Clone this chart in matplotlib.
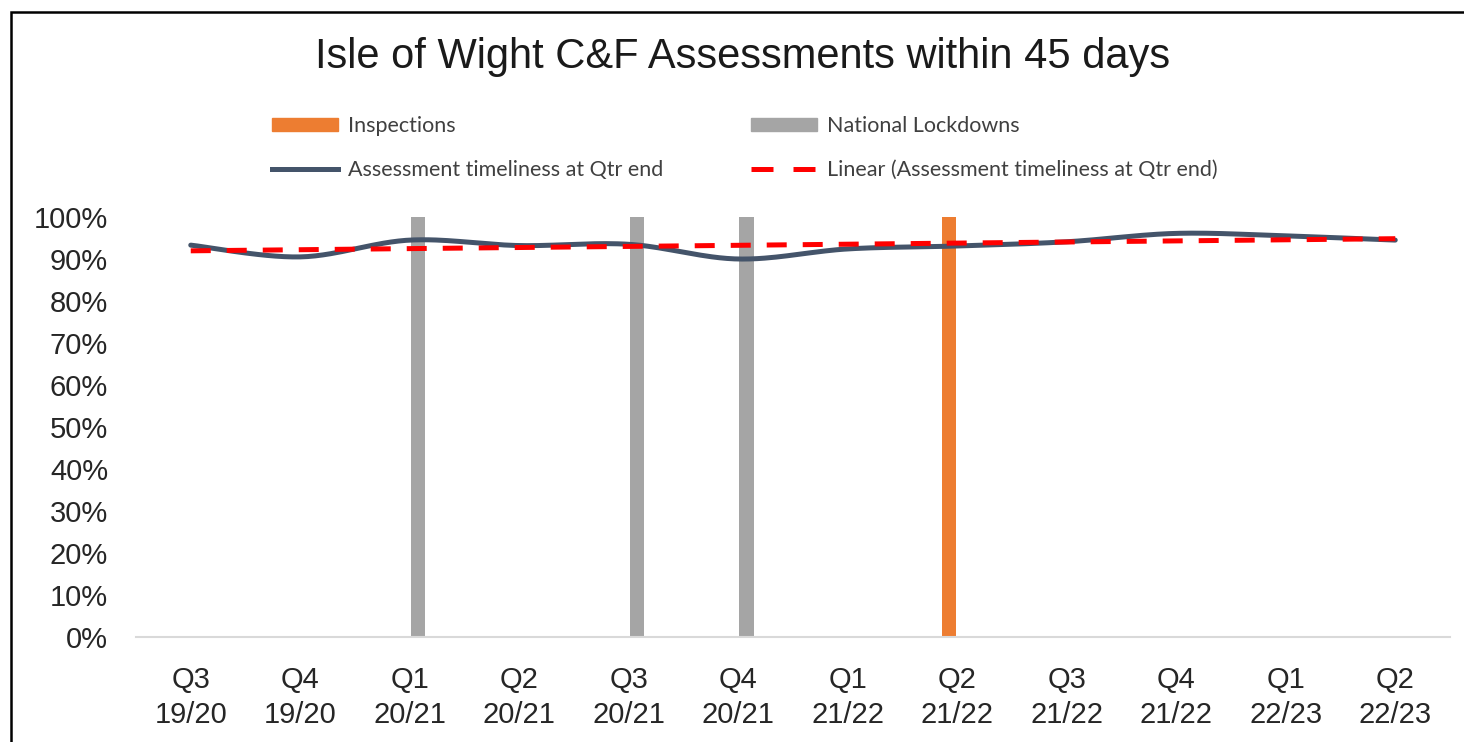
import numpy as np
import matplotlib
matplotlib.use('Agg')
import matplotlib.pyplot as plt
from matplotlib.patches import Patch, Rectangle
from matplotlib.lines import Line2D

quarters = ['Q3\n19/20', 'Q4\n19/20', 'Q1\n20/21', 'Q2\n20/21', 'Q3\n20/21', 'Q4\n20/21',
            'Q1\n21/22', 'Q2\n21/22', 'Q3\n21/22', 'Q4\n21/22', 'Q1\n22/23', 'Q2\n22/23']
timeliness = [0.933, 0.905, 0.945, 0.932, 0.935, 0.900, 0.924, 0.931, 0.941, 0.961, 0.955, 0.945]
inspections = [0, 0, 0, 0, 0, 0, 0, 1, 0, 0, 0, 0]
lockdowns = [0, 0, 1, 0, 1, 1, 0, 0, 0, 0, 0, 0]

orange = '#ED7D31'
grey = '#A5A5A5'
navy = '#44546A'

plt.rcParams['font.family'] = ['Liberation Sans', 'DejaVu Sans']


def smooth(xs, ys, n=30):
    # excel style smoothed line (catmull-rom as bezier)
    p = np.column_stack([xs, ys]).astype(float)
    out = []
    for i in range(len(p) - 1):
        p0 = p[i - 1] if i > 0 else p[i]
        p1 = p[i]
        p2 = p[i + 1]
        p3 = p[i + 2] if i + 2 < len(p) else p[i + 1]
        c1 = p1 + (p2 - p0) / 6
        c2 = p2 - (p3 - p1) / 6
        t = np.linspace(0, 1, n)[:, None]
        seg = (1 - t)**3 * p1 + 3 * (1 - t)**2 * t * c1 + 3 * (1 - t) * t**2 * c2 + t**3 * p2
        out.append(seg if i == 0 else seg[1:])
    out = np.vstack(out)
    return out[:, 0], out[:, 1]


fig = plt.figure(figsize=(14.64, 7.42), dpi=100)
ax = fig.add_axes([136 / 1464, 1 - 637 / 742, 1314 / 1464, 420 / 742])

x = np.arange(len(quarters))
w = 0.13
ax.bar(x - 0.075, inspections, width=w, color=orange, zorder=2)
ax.bar(x + 0.075, lockdowns, width=w, color=grey, zorder=2)

sx, sy = smooth(x, timeliness)
ax.plot(sx, sy, color=navy, lw=3.6, solid_capstyle='round', zorder=3)

coef = np.polyfit(x, timeliness, 1)
ax.plot([x[0], x[-1]], np.polyval(coef, [x[0], x[-1]]), color='#FF0000', lw=3.6,
        dashes=(4, 3.2), zorder=4)

ax.set_xlim(-0.5, len(quarters) - 0.5)
ax.set_ylim(0, 1)
ax.set_yticks(np.arange(0, 1.01, 0.1))
ax.set_yticklabels([f'{int(round(v * 100))}%' for v in np.arange(0, 1.01, 0.1)])
ax.set_xticks(x)
ax.set_xticklabels(quarters, linespacing=1.3)
ax.tick_params(axis='both', length=0, labelsize=21, colors='#262626')
ax.tick_params(axis='y', pad=20)
ax.tick_params(axis='x', pad=21)
for s in ['top', 'right', 'left']:
    ax.spines[s].set_visible(False)
ax.spines['bottom'].set_color('#D9D9D9')
ax.spines['bottom'].set_linewidth(1.5)

fig.text(743 / 1464, 1 - 57 / 742, 'Isle of Wight C&F Assessments within 45 days',
         ha='center', va='center', fontsize=30, color='#1a1a1a')

handles = [Patch(color=orange), Line2D([], [], color=navy, lw=3.6),
           Patch(color=grey), Line2D([], [], color='#FF0000', lw=3.6, dashes=(4.4, 4.0))]
labels = ['Inspections', 'Assessment timeliness at Qtr end',
          'National Lockdowns', 'Linear (Assessment timeliness at Qtr end)']
fig.legend(handles, labels, ncol=2, loc='center left', bbox_to_anchor=(272 / 1464, 1 - 148 / 742),
           frameon=False, prop={'family': 'Lato', 'size': 15.5}, handlelength=3.07,
           handleheight=0.6, handletextpad=0.45, columnspacing=4.1, labelspacing=1.1,
           borderpad=0, borderaxespad=0, labelcolor='#404040')

fig.add_artist(Rectangle((11 / 1464, -0.1), 1.2, 1 - 12 / 742 + 0.1, transform=fig.transFigure,
                         fill=False, edgecolor='black', lw=1.8))

fig.savefig('out.png', dpi=100)
plt.close(fig)
